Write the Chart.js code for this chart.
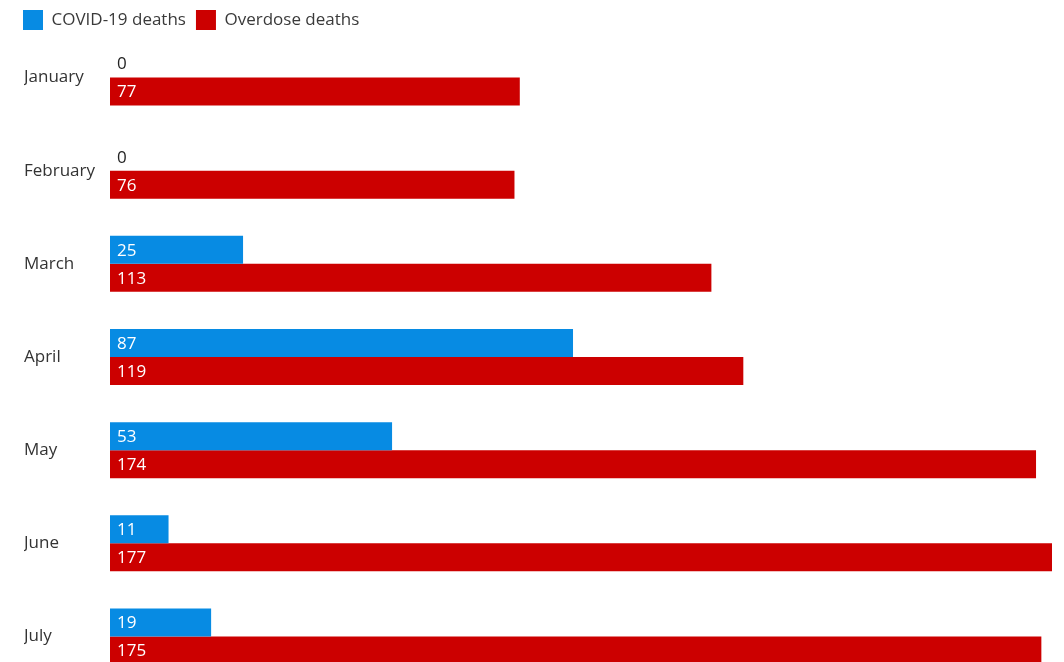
<!DOCTYPE html>
<html>
<head>
<meta charset="utf-8">
<script src="https://cdn.jsdelivr.net/npm/chart.js@4/dist/chart.umd.min.js"></script>
<style>
  html, body { margin: 0; padding: 0; background: #fff; }
  #frame { width: 1064px; height: 662px; overflow: hidden; }
  canvas { display: block; }
</style>
</head>
<body>
<div id="frame"><canvas id="chart" width="1064" height="683"></canvas></div>
<script>
// months shown down the left side
const MONTHS = ["January", "February", "March", "April", "May", "June", "July"];
const COVID_DEATHS = [0, 0, 25, 87, 53, 11, 19];
const OVERDOSE_DEATHS = [77, 76, 113, 119, 174, 177, 175];

const BLUE = "#078be3";
const RED = "#cc0000";
const FONT = "'Open Sans', 'Noto Sans', sans-serif";

// shrink the legend's reserved height so the bars start close under it,
// and pull it left of the month labels
const legendFit = {
  id: "legendFit",
  beforeInit(chart) {
    const fit = chart.legend.fit;
    chart.legend.fit = function () {
      fit.bind(chart.legend)();
      this.height = 31;
    };
  },
  afterLayout(chart) {
    chart.legend.left = 13;
  },
};

// value labels at the start of each bar
const barLabels = {
  id: "barLabels",
  afterDatasetsDraw(chart) {
    const ctx = chart.ctx;
    ctx.save();
    ctx.font = "17px " + FONT;
    ctx.textAlign = "left";
    ctx.textBaseline = "middle";
    chart.data.datasets.forEach((ds, i) => {
      const meta = chart.getDatasetMeta(i);
      meta.data.forEach((bar, j) => {
        const v = ds.data[j];
        ctx.fillStyle = v > 0 ? "#ffffff" : "#222222";
        ctx.fillText(String(v), bar.base + 7, bar.y + 1);
      });
    });
    ctx.restore();
  },
};

new Chart(document.getElementById("chart"), {
  type: "bar",
  data: {
    labels: MONTHS,
    datasets: [
      { label: "COVID-19 deaths", data: COVID_DEATHS, backgroundColor: BLUE },
      { label: "Overdose deaths", data: OVERDOSE_DEATHS, backgroundColor: RED },
    ],
  },
  options: {
    indexAxis: "y",
    responsive: false,
    animation: false,
    // canvas is taller than the window: July runs off the bottom like the original
    layout: { padding: { left: 24, right: 12, top: 0, bottom: 0 } },
    datasets: {
      bar: { barPercentage: 1, categoryPercentage: 0.601, borderWidth: 0 },
    },
    scales: {
      x: { display: false, min: 0, max: 177 },
      y: {
        grid: { display: false },
        border: { display: false },
        ticks: {
          crossAlign: "far",
          padding: 0,
          color: "#333",
          font: { family: FONT, size: 17 },
        },
        afterFit(scale) {
          scale.width = 86;
          scale.paddingTop = 0;
          scale.paddingBottom = 0;
        },
      },
    },
    plugins: {
      tooltip: { enabled: false },
      legend: {
        position: "top",
        align: "start",
        labels: {
          boxWidth: 20,
          boxHeight: 20,
          padding: 10,
          color: "#3a3a3a",
          font: { family: FONT, size: 17 },
        },
      },
    },
  },
  plugins: [legendFit, barLabels],
});
</script>
</body>
</html>
